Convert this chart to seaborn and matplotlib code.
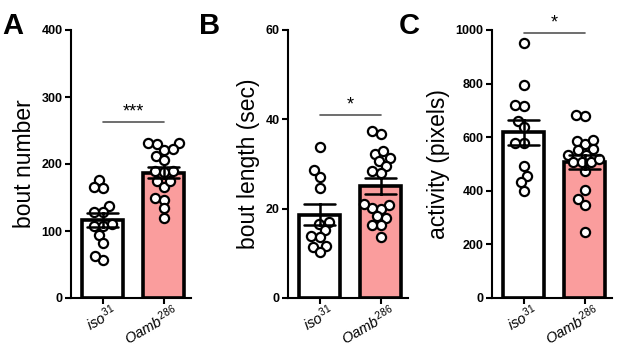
import numpy as np
import pandas as pd
import matplotlib
matplotlib.use("Agg")
import matplotlib.pyplot as plt
import matplotlib.transforms as mtransforms
import seaborn as sns

# genotypes
groups = ["iso31", "Oamb286"]
tick_labels = [r"$\mathit{iso}^{31}$", r"$\mathit{Oamb}^{286}$"]
bar_colors = ["#ffffff", "#fa9d9d"]

# panel A: bout number
bout_iso = [176, 164, 165, 137, 128, 128, 110, 108, 108, 94, 82, 56, 62]
bout_oamb = [231, 231, 230, 221, 222, 212, 206, 190, 188, 189, 174, 166, 175,
             149, 147, 134, 119]

# panel B: bout length (sec)
len_iso = [33.9, 27.2, 28.7, 24.6, 16.5, 17.0, 15.2, 13.8, 13.7, 11.6, 11.5, 10.3]
len_oamb = [37.4, 36.8, 32.3, 30.6, 31.3, 32.8, 29.5, 28.4, 28.0, 20.9, 20.0,
            20.2, 21.0, 18.3, 17.9, 16.3, 16.3, 13.7]

# panel C: activity (pixels)
act_iso = [952, 794, 716, 722, 662, 637, 577, 577, 494, 456, 431, 400]
act_oamb = [678, 681, 585, 573, 591, 556, 552, 535, 532, 506, 506, 506, 520,
            475, 403, 369, 348, 246]

panels = [
    ("A", bout_iso, bout_oamb, "bout number", 400, [0, 100, 200, 300, 400], 263, "***"),
    ("B", len_iso, len_oamb, "bout length (sec)", 60, [0, 20, 40, 60], 41, "*"),
    ("C", act_iso, act_oamb, "activity (pixels)", 1000, [0, 200, 400, 600, 800, 1000], 988, "*"),
]

sns.set_theme(style="ticks")
plt.rcParams["font.family"] = ["Liberation Sans", "DejaVu Sans"]
plt.rcParams["mathtext.fontset"] = "custom"
plt.rcParams["mathtext.it"] = "Liberation Sans:italic"
plt.rcParams["mathtext.rm"] = "Liberation Sans"
for k in ["text.color", "axes.labelcolor", "xtick.color", "ytick.color"]:
    plt.rcParams[k] = "black"

W, H = 617, 350
fig = plt.figure(figsize=(W / 100, H / 100), dpi=100)

lefts = [71, 288, 492]
letter_x = [2, 199, 399]
ax_w = 120
top, bottom = 30, 298

axes = []
for i, (letter, a, b, ylab, ymax, yticks, sig_y, stars) in enumerate(panels):
    ax = fig.add_axes([lefts[i] / W, (H - bottom) / H, ax_w / W, (bottom - top) / H])
    df = pd.DataFrame({"group": [groups[0]] * len(a) + [groups[1]] * len(b),
                       "value": a + b})
    sns.barplot(data=df, x="group", y="value", hue="group", palette=bar_colors,
                saturation=1, errorbar="se", capsize=0.5, width=0.68,
                edgecolor="black", linewidth=2.6,
                err_kws={"color": "black", "linewidth": 1.8},
                legend=False, ax=ax)
    for ln in ax.lines:
        ln.set_zorder(6)
    # small swarm markers so the cloud stays narrow, redrawn bigger below
    sns.swarmplot(data=df, x="group", y="value", color="white", edgecolor="black",
                  linewidth=1.6, size=4.6, ax=ax, zorder=4)
    ax.set_xlim(-0.52, 1.45)
    ax.set_ylim(0, ymax)
    ax.set_yticks(yticks)
    ax.set_yticklabels([str(t) for t in yticks], fontsize=9, fontweight="bold")
    ax.set_xticks([0, 1])
    ax.set_xlabel("")
    ax.set_ylabel(ylab, fontsize=16.5, labelpad=4)
    ax.tick_params(axis="both", width=1.5, length=4, color="black", pad=2)
    ax.tick_params(axis="x", pad=1)
    ax.set_xticklabels(tick_labels, fontsize=10.5, rotation=30, ha="right",
                       va="center", rotation_mode="anchor")
    shift = mtransforms.ScaledTranslation(13 / 100, -5 / 100, fig.dpi_scale_trans)
    for lab in ax.get_xticklabels():
        lab.set_transform(lab.get_transform() + shift)
    for s in ["left", "bottom"]:
        ax.spines[s].set_linewidth(1.5)
        ax.spines[s].set_color("black")
    sns.despine(ax=ax)
    ax.plot([0, 1], [sig_y, sig_y], color="#555555", lw=1.2, clip_on=False)
    ax.text(0.5, sig_y + ymax * 0.005, stars, ha="center", va="bottom",
            fontsize=13, clip_on=False)
    fig.text(letter_x[i] / W, (H - 12) / H, letter, fontsize=21, fontweight="bold",
             ha="left", va="top")
    axes.append(ax)

# fix swarm positions, then redraw the points at full size
fig.canvas.draw()
for ax in axes:
    for coll in list(ax.collections):
        if coll.get_zorder() == 4:
            offs = np.asarray(coll.get_offsets())
            coll.remove()
            ax.scatter(offs[:, 0], offs[:, 1], s=6.6 ** 2, facecolor="white",
                       edgecolor="black", linewidth=1.6, zorder=4)

fig.savefig("out.png", dpi=100)
